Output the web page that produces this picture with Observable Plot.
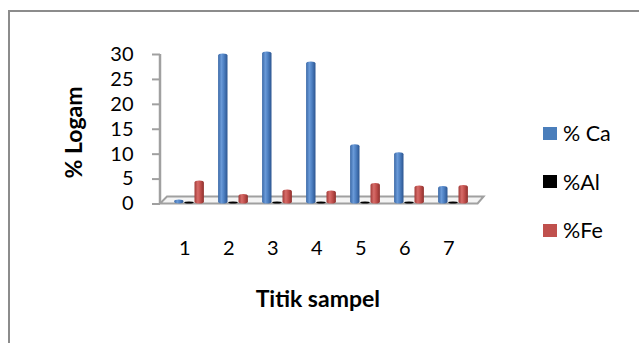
<!DOCTYPE html>
<html><head><meta charset="utf-8">
<script src="https://cdn.jsdelivr.net/npm/d3@7"></script>
<script src="https://cdn.jsdelivr.net/npm/@observablehq/plot@0.6"></script>
<style>
html,body{margin:0;padding:0;background:#fff;overflow:hidden;width:639px;height:343px;}
#wrap{position:relative;width:639px;height:343px;font-family:Lato,sans-serif;}
#border{position:absolute;left:7.5px;top:10px;width:700px;height:400px;border:2.5px solid #8c8c8c;box-sizing:border-box;}
#chart{position:absolute;left:0;top:0;}
.leg{position:absolute;left:543px;display:flex;align-items:center;font-size:21.5px;line-height:22px;height:22px;color:#000;}
.sw{width:14px;height:13px;margin-right:6px;}
</style></head><body>
<div id="wrap"><div id="border"></div><div id="chart"></div><div id="legend"></div></div>
<script>
const categories = ["1","2","3","4","5","6","7"];
const series = ["% Ca","%Al","%Fe"];
const ca = [0.8, 30.1, 30.5, 28.5, 11.9, 10.3, 3.5];
const al = [0.4, 0.4, 0.4, 0.4, 0.4, 0.4, 0.4];
const fe = [4.6, 1.9, 2.8, 2.6, 4.1, 3.6, 3.7];
const yTicks = [0, 5, 10, 15, 20, 25, 30];
const yLabel = "% Logam";
const xLabel = "Titik sampel";
const colors = ["#4a7ebb", "#000000", "#c0504d"];

const rows = [];
categories.forEach((c, i) => {
  rows.push({cat: c, series: series[0], value: ca[i]});
  rows.push({cat: c, series: series[1], value: al[i]});
  rows.push({cat: c, series: series[2], value: fe[i]});
});

const ns = "http://www.w3.org/2000/svg";
function el(name, attrs) {
  const e = document.createElementNS(ns, name);
  for (const k in attrs) e.setAttribute(k, attrs[k]);
  return e;
}
function grad(id, stops) {
  const g = el("linearGradient", {id, x1: "0", y1: "0", x2: "1", y2: "0"});
  stops.forEach(([o, c]) => g.appendChild(el("stop", {offset: o, "stop-color": c})));
  return g;
}
function floorMark(index, scales, values, dims) {
  const {y} = scales;
  const g = el("g", {});
  const defs = el("defs", {});
  defs.appendChild(grad("gCa", [[0, "#3a68a6"], [0.35, "#6a9ad8"], [0.6, "#4f82c4"], [1, "#2c5590"]]));
  defs.appendChild(grad("gFe", [[0, "#a23a37"], [0.35, "#d66c69"], [0.6, "#c4524f"], [1, "#8e2f2c"]]));
  g.appendChild(defs);
  const y0 = y(0), x0 = dims.marginLeft, x1 = dims.width - dims.marginRight - 5, d = 7;
  g.appendChild(el("path", {
    d: `M${x0},${y0}L${x1},${y0}L${x1 + d - 1},${y0 - d}L${x0 + d},${y0 - d}Z`,
    fill: "#f4f4f4", stroke: "#a0a0a0", "stroke-width": 2
  }));
  g.appendChild(el("path", {
    d: `M${x0},${y(yTicks[yTicks.length - 1])}V${y0}`,
    stroke: "#a0a0a0", "stroke-width": 2.5, fill: "none"
  }));
  return g;
}

const step = 10.2;
const inset = 17.3;
const barOpts = (s, dx, fill) => ({
  x: "cat", y: "value", filter: d => d.series === s, dx, fill,
  insetLeft: inset, insetRight: inset, rx: 5, ry: 2
});

const chart = Plot.plot({
  width: 639, height: 343,
  marginLeft: 160, marginRight: 156.4, marginTop: 54, marginBottom: 139.5,
  x: {domain: categories, paddingInner: 0, paddingOuter: 0.1, axis: null},
  y: {domain: [0, 30], axis: null},
  style: {fontFamily: "Lato, sans-serif", fontSize: "20px", color: "black", background: "transparent"},
  marks: [
    floorMark,
    Plot.axisY({ticks: yTicks, tickSize: 8, tickPadding: 19, stroke: "#a0a0a0", strokeWidth: 2, label: null, fontSize: 20}),
    Plot.axisX({tickSize: 0, tickPadding: 37, dx: -4.6, label: null, fontSize: 20}),
    Plot.barY(rows, barOpts(series[0], -step, "url(#gCa)")),
    Plot.barY(rows, barOpts(series[1], 0, colors[1])),
    Plot.barY(rows, barOpts(series[2], step, "url(#gFe)")),
    Plot.text([yLabel], {frameAnchor: "left", textAnchor: "middle", lineAnchor: "middle", rotate: -90, dx: -86, dy: 3.25, fontWeight: "bold", fontSize: 23}),
    Plot.text([xLabel], {frameAnchor: "bottom", textAnchor: "middle", lineAnchor: "middle", dx: -4, dy: 95.5, fontWeight: "bold", fontSize: 23})
  ]
});
document.getElementById("chart").appendChild(chart);

const legend = document.getElementById("legend");
const legTops = [133, 181.5, 230];
series.forEach((s, i) => {
  const row = document.createElement("div");
  row.className = "leg";
  row.style.top = (legTops[i] - 11) + "px";
  const sw = document.createElement("div");
  sw.className = "sw";
  sw.style.background = colors[i];
  const t = document.createElement("span");
  t.textContent = s;
  row.appendChild(sw);
  row.appendChild(t);
  legend.appendChild(row);
});
</script>
</body></html>
